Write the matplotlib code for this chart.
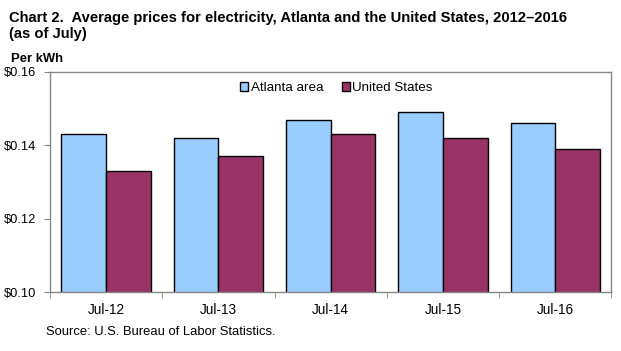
import matplotlib
matplotlib.use("Agg")
import matplotlib.pyplot as plt
import numpy as np

plt.rcParams['font.family'] = ['Liberation Sans', 'DejaVu Sans']

# data
categories = ["Jul-12", "Jul-13", "Jul-14", "Jul-15", "Jul-16"]
atlanta = [0.143, 0.142, 0.147, 0.149, 0.146]
united_states = [0.133, 0.137, 0.143, 0.142, 0.139]
series_names = ["Atlanta area", "United States"]
y_ticks = [0.10, 0.12, 0.14, 0.16]

BLUE = "#99CCFF"
MAROON = "#993366"
GREY = "#868686"

fig = plt.figure(figsize=(6.21, 3.51), dpi=100)
ax = fig.add_axes([0.0805, 0.168, 0.904, 0.627])

x = np.arange(len(categories))
w = 0.398
ax.bar(x - w / 2, atlanta, w, color=BLUE, edgecolor="black", linewidth=1.0, label=series_names[0])
ax.bar(x + w / 2, united_states, w, color=MAROON, edgecolor="black", linewidth=1.0, label=series_names[1])

ax.set_xlim(-0.5, len(categories) - 0.5)
ax.set_ylim(0.10, 0.16)
ax.set_yticks(y_ticks)
ax.set_yticklabels([f"${v:.2f}" for v in y_ticks], fontsize=9.3)
ax.set_xticks(x)
ax.set_xticklabels(categories, fontsize=9.8)
ax.set_xticks(np.arange(len(categories) + 1) - 0.5, minor=True)
ax.tick_params(axis="x", which="major", length=0, pad=8)
ax.tick_params(axis="x", which="minor", length=4, color=GREY, direction="out")
ax.tick_params(axis="y", length=4, color=GREY, direction="out", pad=6)

for s in ax.spines.values():
    s.set_color(GREY)
    s.set_linewidth(1.0)

leg = ax.legend(loc="center", bbox_to_anchor=(0.51, 0.927), ncol=2, frameon=False,
                fontsize=9.6, handlelength=0.6, handleheight=0.6, handletextpad=0.2,
                columnspacing=1.4)
for h in leg.legend_handles:
    h.set_linewidth(1.0)

fig.text(0.014, 0.950, "Chart 2.  Average prices for electricity, Atlanta and the United States, 2012\u20132016",
         fontsize=10.6, fontweight="bold", va="center")
fig.text(0.014, 0.903, "(as of July)", fontsize=10.6, fontweight="bold", va="center")
fig.text(0.018, 0.832, "Per kWh", fontsize=9.4, fontweight="bold", va="center")
fig.text(0.074, 0.055, "Source: U.S. Bureau of Labor Statistics.", fontsize=9.4, va="center")

fig.savefig("out.png", dpi=100)
